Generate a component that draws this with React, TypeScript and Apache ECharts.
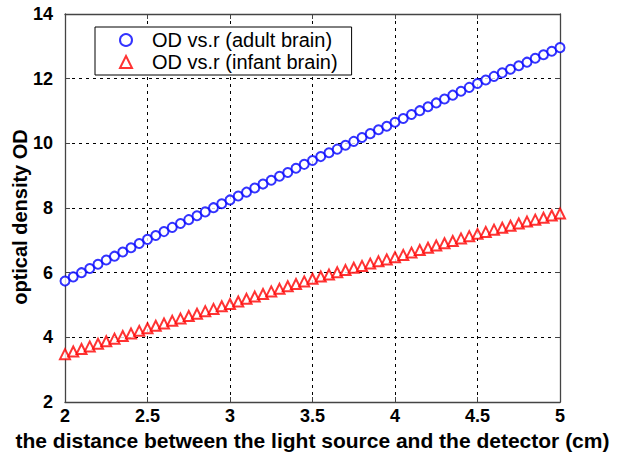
import React, { useEffect, useRef } from "react";
import * as echarts from "echarts";

const distances = [
  2.0, 2.05, 2.1, 2.15, 2.2, 2.25, 2.3, 2.35, 2.4, 2.45,
  2.5, 2.55, 2.6, 2.65, 2.7, 2.75, 2.8, 2.85, 2.9, 2.95,
  3.0, 3.05, 3.1, 3.15, 3.2, 3.25, 3.3, 3.35, 3.4, 3.45,
  3.5, 3.55, 3.6, 3.65, 3.7, 3.75, 3.8, 3.85, 3.9, 3.95,
  4.0, 4.05, 4.1, 4.15, 4.2, 4.25, 4.3, 4.35, 4.4, 4.45,
  4.5, 4.55, 4.6, 4.65, 4.7, 4.75, 4.8, 4.85, 4.9, 4.95,
  5.0,
];

const adultOD = [
  5.74, 5.87, 6.0, 6.13, 6.26, 6.39, 6.51, 6.64, 6.77, 6.9,
  7.03, 7.15, 7.27, 7.4, 7.52, 7.64, 7.76, 7.88, 8.01, 8.13,
  8.25, 8.37, 8.49, 8.62, 8.74, 8.86, 8.98, 9.1, 9.23, 9.35,
  9.47, 9.59, 9.71, 9.82, 9.94, 10.06, 10.18, 10.3, 10.42, 10.53,
  10.65, 10.77, 10.89, 11.01, 11.13, 11.25, 11.37, 11.49, 11.61, 11.73,
  11.85, 11.96, 12.07, 12.18, 12.29, 12.4, 12.51, 12.63, 12.74, 12.85,
  12.96,
];

const infantOD = [
  3.48, 3.56, 3.64, 3.72, 3.8, 3.88, 3.96, 4.04, 4.12, 4.2,
  4.28, 4.36, 4.43, 4.51, 4.58, 4.66, 4.73, 4.81, 4.88, 4.96,
  5.03, 5.11, 5.19, 5.26, 5.34, 5.42, 5.5, 5.58, 5.65, 5.73,
  5.81, 5.88, 5.94, 6.01, 6.08, 6.15, 6.21, 6.28, 6.35, 6.41,
  6.48, 6.55, 6.62, 6.7, 6.77, 6.84, 6.91, 6.98, 7.06, 7.13,
  7.2, 7.26, 7.33, 7.39, 7.45, 7.52, 7.58, 7.64, 7.7, 7.77,
  7.83,
];

const seriesNames = ["OD vs.r (adult brain)", "OD vs.r (infant brain)"];
const xTitle = "the distance between the light source and the detector (cm)";
const yTitle = "optical density OD";

const FONT = '"Liberation Sans", Arial, sans-serif';

export default function App() {
  const ref = useRef<HTMLDivElement>(null);

  useEffect(() => {
    if (!ref.current) return;
    const chart = echarts.init(ref.current, undefined, { renderer: "svg" });
    const gridLine = { show: true, lineStyle: { color: "#000", width: 1, type: [3, 4] as any } };
    const axisLine = { show: true, lineStyle: { color: "#444", width: 1.3 } };
    const tick = { show: true, inside: true, length: 5, lineStyle: { color: "#444" } };
    chart.setOption({
      animation: false,
      backgroundColor: "#fff",
      grid: {
        left: 65,
        right: 58,
        top: 14,
        bottom: 52,
        containLabel: false,
        outerBoundsMode: "none",
      },
      legend: {
        left: 95,
        top: 27,
        orient: "vertical",
        backgroundColor: "#fff",
        borderColor: "#000",
        borderWidth: 1,
        padding: [3, 14, 3, 24],
        itemWidth: 12,
        itemHeight: 12,
        itemGap: 2,
        textStyle: {
          fontFamily: FONT,
          fontSize: 20,
          color: "#000",
          lineHeight: 20,
          padding: [0, 0, 0, 15],
        },
        data: seriesNames,
      },
      graphic: [
        {
          type: "text",
          x: 20,
          y: 217,
          rotation: Math.PI / 2,
          style: {
            text: yTitle,
            font: `bold 20px ${FONT}`,
            fill: "#000",
            textAlign: "center",
            textVerticalAlign: "middle",
          },
        },
      ],
      xAxis: [
        {
          type: "value",
          min: 2,
          max: 5,
          interval: 0.5,
          position: "bottom",
          name: xTitle,
          nameLocation: "middle",
          nameGap: 28,
          nameTextStyle: { fontFamily: FONT, fontSize: 21, fontWeight: "bold", color: "#000" },
          axisLine,
          axisTick: tick,
          splitLine: gridLine,
          axisLabel: { fontFamily: FONT, fontSize: 18, fontWeight: "bold", color: "#000", margin: 5 },
        },
        {
          type: "value",
          min: 2,
          max: 5,
          interval: 0.5,
          position: "top",
          axisLine,
          axisTick: tick,
          splitLine: { show: false },
          axisLabel: { show: false },
        },
      ],
      yAxis: [
        {
          type: "value",
          min: 2,
          max: 14,
          interval: 2,
          position: "left",
          axisLine,
          axisTick: tick,
          splitLine: gridLine,
          axisLabel: { fontFamily: FONT, fontSize: 18, fontWeight: "bold", color: "#000", margin: 12 },
        },
        {
          type: "value",
          min: 2,
          max: 14,
          interval: 2,
          position: "right",
          axisLine,
          axisTick: tick,
          splitLine: { show: false },
          axisLabel: { show: false },
        },
      ],
      series: [
        {
          name: seriesNames[0],
          type: "scatter",
          symbol: "emptyCircle",
          symbolSize: 9,
          itemStyle: { color: "#0000ff", borderColor: "#0000ff", borderWidth: 2 },
          data: distances.map((r, i) => [r, adultOD[i]]),
        },
        {
          name: seriesNames[1],
          type: "scatter",
          symbol: "emptyTriangle",
          symbolSize: 10,
          itemStyle: { color: "#ff0000", borderColor: "#ff0000", borderWidth: 1.8 },
          data: distances.map((r, i) => [r, infantOD[i]]),
        },
      ],
    });
    return () => chart.dispose();
  }, []);

  return (
    <div
      ref={ref}
      style={{ position: "fixed", left: 0, top: 0, width: 618, height: 454, background: "#fff" }}
    />
  );
}
